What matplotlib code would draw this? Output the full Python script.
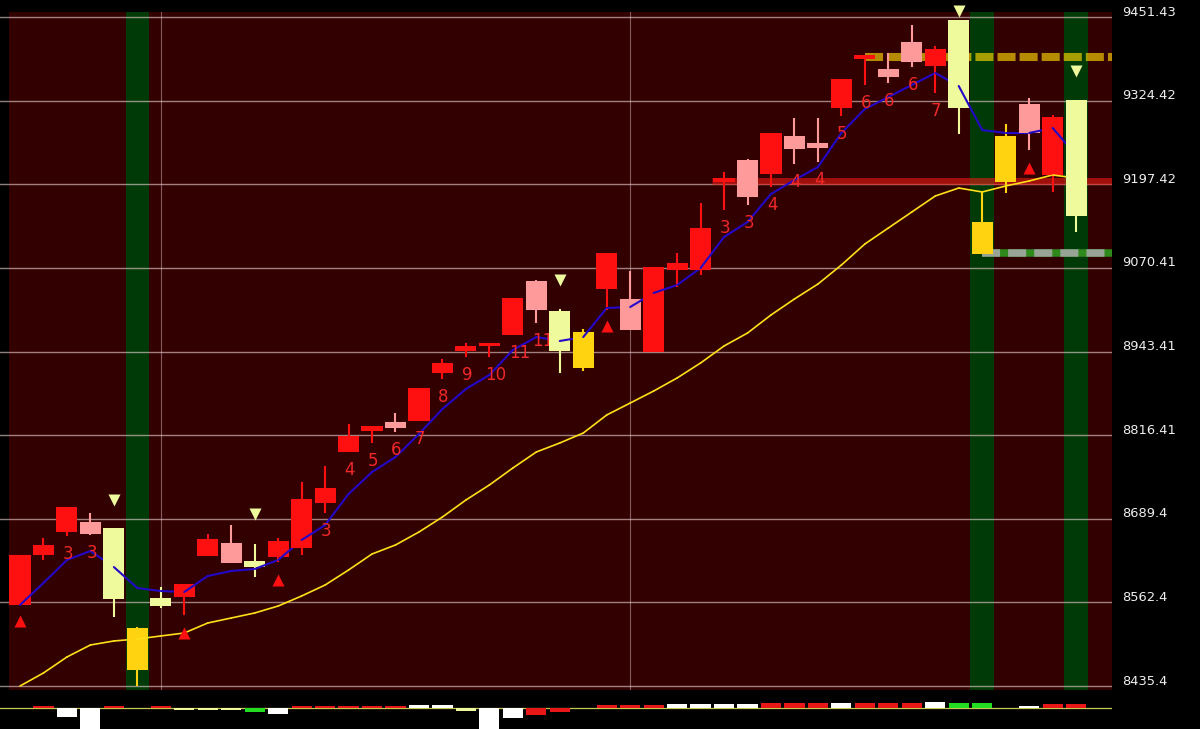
import matplotlib.pyplot as plt

plt.rcParams['lines.scale_dashes'] = False

# ---- candles (price units) ----
opens = [8558.4, 8634.4, 8669.3, 8666.3, 8675.4, 8523.5, 8569.1, 8570.6, 8632.9, 8622.2,
         8625.3, 8631.3, 8645.0, 8713.3, 8790.8, 8822.7, 8827.2, 8837.9, 8910.8, 8944.2,
         8951.8, 8968.5, 9006.5, 9004.9, 8973.0, 9038.4, 8976.1, 8942.7, 9067.2, 9067.2,
         9200.8, 9178.1, 9213.0, 9251.0, 9252.5, 9313.2, 9387.6, 9360.3, 9383.1, 9377.0,
         9446.9, 9140.1, 9270.7, 9275.3, 9211.5, 9325.4]
highs = [8634.4, 8660.2, 8707.3, 8698.2, 8675.4, 8525.0, 8585.8, 8590.3, 8666.3, 8679.9,
         8651.1, 8660.2, 8745.2, 8769.5, 8833.3, 8830.3, 8850.0, 8888.0, 8932.0, 8956.3,
         8956.3, 9024.7, 9052.0, 9008.0, 8977.6, 9093.0, 9065.7, 9071.8, 9093.0, 9169.0,
         9216.0, 9235.8, 9275.3, 9298.0, 9298.0, 9357.3, 9393.7, 9396.8, 9439.3, 9407.4,
         9446.9, 9185.7, 9288.9, 9328.4, 9302.6, 9325.4]
lows = [8558.4, 8626.8, 8663.2, 8664.7, 8540.2, 8435.4, 8553.9, 8543.3, 8632.9, 8622.2,
        8601.0, 8623.7, 8634.4, 8698.2, 8790.8, 8804.5, 8821.2, 8837.9, 8901.7, 8935.1,
        8935.1, 8968.5, 8986.7, 8910.8, 8913.8, 9006.5, 8976.1, 8942.7, 9041.4, 9059.6,
        9158.3, 9165.9, 9193.3, 9228.2, 9231.2, 9301.1, 9348.2, 9351.2, 9375.5, 9336.0,
        9273.7, 9091.5, 9184.1, 9249.4, 9185.7, 9124.9]
closes = [8634.4, 8649.6, 8707.3, 8684.5, 8567.5, 8459.7, 8556.9, 8590.3, 8658.7, 8652.6,
          8616.1, 8655.6, 8719.4, 8736.1, 8815.1, 8830.3, 8836.4, 8888.0, 8926.0, 8951.8,
          8956.3, 9024.7, 9050.5, 8944.2, 8918.4, 9093.0, 9023.2, 9071.8, 9077.8, 9131.0,
          9206.9, 9234.3, 9275.3, 9270.7, 9260.1, 9357.3, 9393.7, 9372.5, 9413.5, 9402.8,
          9313.2, 9091.5, 9200.8, 9319.3, 9299.6, 9149.2]
# R red, P pink, Y pale yellow, G gold
kinds = "RRRPYGYRRP" "YRRRRRPRRR" "RRPYGRPRRR" "RPRPPRRPPR" "YGGPRY"

ma_fast = [8558.4, 8591.9, 8626.8, 8640.4, 8616.1, 8584.2, 8579.7, 8578.2, 8602.5, 8610.1,
           8613.1, 8626.8, 8657.1, 8679.9, 8727.0, 8760.4, 8783.2, 8818.1, 8856.1, 8886.5,
           8907.7, 8945.7, 8965.4, 8959.4, 8965.4, 9009.5, 9011.0, 9032.3, 9044.4, 9070.2,
           9117.3, 9140.1, 9182.6, 9203.9, 9223.6, 9275.3, 9311.7, 9329.9, 9348.2, 9366.4,
           9346.6, 9279.8, 9275.3, 9275.3, 9282.9, 9241.8]
ma_slow = [8435.4, 8455.2, 8479.5, 8497.7, 8503.8, 8506.8, 8511.4, 8515.9, 8531.1, 8538.7,
           8546.3, 8556.9, 8572.1, 8588.8, 8611.6, 8635.9, 8649.6, 8669.3, 8692.1, 8717.9,
           8740.7, 8766.5, 8790.8, 8804.5, 8819.6, 8847.0, 8865.2, 8883.4, 8903.2, 8926.0,
           8951.8, 8971.5, 8998.9, 9023.2, 9045.9, 9074.8, 9106.7, 9131.0, 9155.3, 9179.6,
           9191.7, 9185.7, 9194.8, 9202.4, 9211.5, 9206.9]

label_idx = [2, 3, 13, 14, 15, 16, 17, 18, 19, 20, 21, 22, 30, 31, 32, 33, 34, 35, 36, 37, 38, 39]
label_txt = ['3', '3', '3', '4', '5', '6', '7', '8', '9', '10', '11', '11',
             '3', '3', '4', '4', '4', '5', '6', '6', '6', '7']

up_idx = [0, 7, 11, 25, 43]
up_y = [8534.1, 8515.9, 8596.4, 8982.2, 9222.1]
dn_idx = [4, 10, 23, 40, 45]
dn_y = [8717.9, 8697.4, 9052.0, 9460.5, 9369.4]

green_bands = [5, 41, 45]
vgrid = [6, 26]

level_price = [9391.4, 9203.1, 9093.0]
level_start = [36.0, 29.5, 41.0]

tick_vals = [9451.43, 9324.42, 9197.42, 9070.41, 8943.41, 8816.41, 8689.4, 8562.4, 8435.4]
tick_txt = ['9451.43', '9324.42', '9197.42', '9070.41', '8943.41', '8816.41', '8689.4', '8562.4', '8435.4']

vol = [0, 1.5, -9, -21, 1.5, 0, 1.5, -2, -2, -2, -4, -6, 1.5, 1.5, 2, 2, 2, 3, 3, -3,
       -21, -10, -7, -4, 0, 3, 3, 3, 3.5, 3.5, 3.5, 3.5, 4.5, 4.5, 4.5, 5, 4.5, 4.5, 4.5, 5.5,
       5, 5, 0, 2, 3.5, 3.5]
vol_kind = "NRWWRNRYYY" "GWRRRRRWWY" "WWRRNRRRWW" "WWRRRWRRRW" "GGNWRR"

colors = {'R': '#FF1010', 'P': '#FF9A9A', 'Y': '#EEFA9C', 'G': '#FFD30F',
          'W': '#FFFFFF', 'N': '#000000'}
vol_colors = dict(colors, G='#22DD22', R='#E81818')

X0, X1 = -0.852, 46.53
XL = -0.47

fig = plt.figure(figsize=(12, 7.29), dpi=100, facecolor='black')
ax = fig.add_axes([0, 1 - 690 / 729, 1112 / 1200, 678 / 729])
ax.set_axis_off()
ax.set_xlim(X0, X1)
ax.set_ylim(8429.35, 9459.03)

ax.axvspan(XL, X1, color='#330000', lw=0, zorder=0)
for b in green_bands:
    ax.axvspan(b - 0.5, b + 0.5, color='#003A06', lw=0, zorder=1)
for v in vgrid:
    ax.axvline(v, color='#D8B8B8', alpha=0.5, lw=0.8, zorder=2)
for v in tick_vals:
    ax.axhline(v, color='#E8D0D0', alpha=0.62, lw=1.0, zorder=2)

# support / resistance levels
ax.hlines(level_price[0], level_start[0], X1, color='#FFD700', alpha=0.65, lw=5.8,
          linestyles=[(0, (13, 2.9))], zorder=5)
ax.hlines(level_price[1], level_start[1], X1, color='#E81B14', alpha=0.6, lw=5.0, zorder=5)
ax.hlines(level_price[2], level_start[2], X1, color='#2E8A1A', lw=5.4, zorder=5)
ax.hlines(level_price[2], level_start[2], X1, color='#A4A8A4', alpha=0.9, lw=5.4,
          linestyles=[(0, (13, 5.8))], zorder=5)

n = len(opens)
for i in range(n):
    c = colors[kinds[i]]
    z = 10 + 2 * i
    ax.vlines(i, lows[i], highs[i], color=c, lw=1.5, zorder=z)
    lo = min(opens[i], closes[i])
    h = max(abs(closes[i] - opens[i]), 2.5)
    ax.bar(i, h, bottom=lo, width=0.9, color=c, lw=0, zorder=z)
    if i + 1 < n:
        ax.plot([i, i + 1], [ma_fast[i], ma_fast[i + 1]], color='#2408C8', lw=1.5,
                solid_capstyle='round', zorder=z + 1)
        ax.plot([i, i + 1], [ma_slow[i], ma_slow[i + 1]], color='#FFE01A', lw=1.2,
                solid_capstyle='round', zorder=z + 1)

for i, t in zip(label_idx, label_txt):
    ax.annotate(t, xy=(i, lows[i]), xytext=(-3, -12.8), textcoords='offset points',
                ha='left', va='center', fontsize=12, color='#F02828', zorder=11 + 2 * i)

ax.plot(up_idx, up_y, ls='none', marker='^', ms=9, color='#FF1010', mec='none',
        clip_on=False, zorder=200)
ax.plot(dn_idx, dn_y, ls='none', marker='v', ms=9, color='#EEFA9C', mec='none',
        clip_on=False, zorder=200)

for v, t in zip(tick_vals, tick_txt):
    ax.annotate(t, xy=(1, v), xycoords=('axes fraction', 'data'), xytext=(7.2, 3.6),
                textcoords='offset points', ha='left', va='center', fontsize=9.4,
                color='#EEEEEE', annotation_clip=False)

# volume strip
axv = fig.add_axes([0, 0, 1112 / 1200, 32 / 729])
axv.set_axis_off()
axv.set_xlim(X0, X1)
axv.set_ylim(-21.3, 10.7)
axv.axhline(0, color='#C8C850', lw=0.9, zorder=1)
for i in range(n):
    if vol[i] != 0:
        axv.bar(i, vol[i], width=0.86, color=vol_colors[vol_kind[i]], lw=0, zorder=2)

fig.savefig('out.png', dpi=100, facecolor='black')
